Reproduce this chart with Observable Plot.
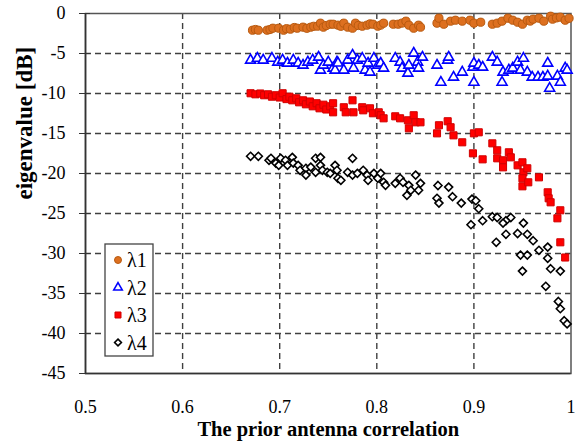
<!DOCTYPE html>
<html>
<head>
<meta charset="utf-8">
<script src="https://cdn.jsdelivr.net/npm/d3@7"></script>
<script src="https://cdn.jsdelivr.net/npm/@observablehq/plot@0.6"></script>
<style>
  html, body { margin: 0; padding: 0; background: #fff; }
  #wrap { position: relative; width: 575px; height: 443px; }
  #legend { position: absolute; left: 104px; top: 243px; }
  #wrap svg, #wrap svg text, #wrap svg g { font-family: 'Liberation Serif', serif !important; font-variant: normal !important; }
</style>
</head>
<body>
<div id="wrap"></div>
<script>
// ---- data ----
const seriesNames = ["λ1", "λ2", "λ3", "λ4"];
const xTicks = [0.5, 0.6, 0.7, 0.8, 0.9, 1];
const yTicks = [0, -5, -10, -15, -20, -25, -30, -35, -40, -45];

const lambda1 = [
  [0.672,-2.09],[0.675,-2.0],[0.678,-2.09],[0.687,-2.09],[0.690,-2.0],[0.693,-1.84],[0.699,-1.84],
  [0.704,-2.09],[0.707,-1.9],[0.711,-1.96],[0.715,-1.75],[0.718,-1.84],[0.724,-1.71],[0.728,-1.85],
  [0.732,-1.71],[0.735,-1.6],[0.739,-1.59],[0.742,-1.21],[0.745,-1.71],[0.748,-1.5],[0.752,-1.34],
  [0.755,-1.34],[0.760,-1.46],[0.763,-1.6],[0.766,-1.21],[0.770,-1.71],[0.775,-1.84],[0.778,-1.21],
  [0.781,-1.5],[0.785,-1.59],[0.790,-1.46],[0.793,-1.3],[0.796,-1.34],[0.801,-1.59],[0.804,-1.45],
  [0.807,-1.21],[0.817,-1.34],[0.822,-1.34],[0.826,-1.2],[0.830,-0.96],[0.833,-1.46],[0.838,-1.84],
  [0.843,-1.46],[0.845,-1.71],[0.862,-1.21],[0.864,-0.59],[0.869,-1.34],[0.876,-0.96],[0.881,-0.84],
  [0.888,-0.96],[0.896,-0.84],[0.900,-1.21],[0.907,-1.09],[0.919,-1.34],[0.924,-1.21],[0.929,-0.96],
  [0.935,-0.59],[0.940,-0.84],[0.945,-1.09],[0.950,-1.34],[0.955,-0.84],[0.958,-0.95],[0.961,-0.71],
  [0.967,-0.59],[0.972,-0.96],[0.979,-0.34],[0.981,-0.71],[0.985,-0.55],[0.989,-0.46],[0.994,-0.84],
  [0.998,-0.6]
];
const lambda2 = [
  [0.670,-5.84],[0.677,-5.6],[0.683,-5.84],[0.692,-5.6],[0.698,-6.09],[0.703,-5.84],[0.708,-6.22],
  [0.714,-5.84],[0.719,-6.22],[0.724,-6.47],[0.729,-6.09],[0.734,-5.84],[0.740,-5.47],[0.742,-7.09],
  [0.745,-6.47],[0.750,-6.09],[0.755,-6.84],[0.757,-7.09],[0.759,-6.09],[0.760,-6.2],[0.766,-7.09],
  [0.770,-5.84],[0.775,-5.22],[0.776,-6.84],[0.780,-5.84],[0.785,-5.6],[0.788,-7.09],[0.791,-6.22],
  [0.793,-7.34],[0.797,-5.6],[0.801,-6.47],[0.804,-6.22],[0.807,-6.84],[0.819,-5.6],[0.824,-6.09],
  [0.826,-6.84],[0.832,-7.47],[0.833,-6.47],[0.838,-4.97],[0.842,-6.09],[0.843,-6.84],[0.847,-5.47],
  [0.862,-6.47],[0.866,-8.6],[0.873,-5.84],[0.874,-5.47],[0.879,-7.97],[0.888,-7.34],[0.899,-6.72],
  [0.900,-6.22],[0.900,-8.6],[0.905,-6.47],[0.909,-6.72],[0.919,-5.47],[0.924,-6.09],[0.929,-8.6],
  [0.930,-7.34],[0.936,-7.09],[0.940,-6.84],[0.945,-6.09],[0.948,-7.09],[0.951,-5.6],[0.955,-7.34],
  [0.960,-7.97],[0.966,-7.97],[0.971,-7.97],[0.976,-6.22],[0.976,-7.84],[0.978,-9.35],[0.986,-7.84],
  [0.989,-8.6],[0.994,-6.84],[0.996,-7.09]
];
const lambda3 = [
  [0.670,-9.97],[0.675,-10.1],[0.680,-10.0],[0.684,-10.22],[0.688,-10.1],[0.692,-10.4],[0.696,-10.22],
  [0.700,-10.5],[0.703,-9.97],[0.707,-10.7],[0.710,-10.4],[0.713,-10.85],[0.717,-10.6],[0.720,-11.1],
  [0.724,-10.85],[0.727,-11.35],[0.731,-11.0],[0.734,-11.6],[0.738,-11.22],[0.741,-11.85],[0.745,-11.4],
  [0.748,-12.0],[0.752,-11.6],[0.755,-11.22],[0.755,-12.35],[0.766,-11.72],[0.768,-12.35],[0.775,-10.85],
  [0.776,-12.35],[0.785,-11.72],[0.786,-12.1],[0.793,-11.85],[0.796,-12.47],[0.802,-12.35],[0.804,-12.72],
  [0.807,-13.1],[0.819,-12.85],[0.824,-13.1],[0.832,-13.35],[0.833,-14.35],[0.838,-12.72],[0.840,-13.6],
  [0.845,-13.6],[0.864,-13.97],[0.873,-13.47],[0.862,-14.98],[0.876,-14.22],[0.879,-15.23],[0.888,-16.1],
  [0.899,-17.48],[0.900,-14.98],[0.905,-14.85],[0.909,-18.23],[0.919,-16.23],[0.924,-17.1],[0.924,-18.1],
  [0.930,-18.35],[0.930,-19.23],[0.936,-17.35],[0.938,-17.98],[0.945,-18.98],[0.950,-18.6],[0.951,-19.85],
  [0.955,-19.35],[0.950,-20.6],[0.950,-21.6],[0.956,-21.1],[0.967,-20.48],[0.976,-22.35],[0.977,-23.1],
  [0.979,-23.6],[0.989,-24.6],[0.986,-25.6],[0.989,-28.6],[0.994,-30.5]
];
const lambda4 = [
  [0.670,-17.85],[0.678,-17.85],[0.689,-18.35],[0.691,-18.1],[0.696,-18.7],[0.699,-18.98],[0.701,-18.1],
  [0.706,-18.35],[0.708,-18.98],[0.713,-17.98],[0.714,-18.7],[0.719,-18.98],[0.721,-19.6],[0.727,-19.35],
  [0.727,-20.2],[0.732,-19.2],[0.737,-18.1],[0.737,-19.85],[0.742,-17.98],[0.742,-18.98],[0.744,-19.6],
  [0.749,-19.85],[0.752,-19.98],[0.757,-18.98],[0.759,-19.6],[0.760,-20.6],[0.763,-20.85],[0.770,-19.85],
  [0.775,-18.1],[0.775,-20.2],[0.780,-19.98],[0.786,-19.6],[0.790,-20.2],[0.791,-20.85],[0.797,-19.98],
  [0.801,-20.6],[0.804,-19.98],[0.807,-21.1],[0.809,-21.48],[0.819,-21.23],[0.824,-20.6],[0.827,-21.1],
  [0.833,-21.48],[0.835,-22.1],[0.831,-22.73],[0.840,-20.2],[0.843,-22.1],[0.845,-21.23],[0.863,-21.5],
  [0.874,-21.7],[0.862,-23.1],[0.864,-23.7],[0.878,-22.9],[0.887,-23.7],[0.898,-23.2],[0.902,-23.4],
  [0.905,-24.4],[0.897,-26.4],[0.909,-25.9],[0.919,-25.4],[0.924,-25.5],[0.933,-25.9],[0.938,-25.5],
  [0.930,-26.2],[0.951,-26.2],[0.933,-27.6],[0.923,-28.6],[0.945,-27.5],[0.955,-27.6],[0.961,-28.4],
  [0.967,-29.6],[0.976,-29.2],[0.948,-30.2],[0.955,-30.2],[0.976,-30.6],[0.950,-32.2],[0.979,-31.9],
  [0.989,-32.2],[0.974,-34.1],[0.987,-36.0],[0.989,-36.9],[0.993,-38.4],[0.996,-38.8]
];

// ---- styles ----
const styles = [
  {symbol: "circle",   fill: "#dd7020", stroke: "#b85a10", r: 4.1, sw: 1},
  {symbol: "triangle", fill: "#ffffff", stroke: "#0000ff", r: 3.7, sw: 1.6},
  {symbol: "square",   fill: "#ff0000", stroke: "#d00000", r: 4.0, sw: 1},
  {symbol: "diamond2", fill: "#ffffff", stroke: "#000000", r: 3.6, sw: 1.6}
];
const allSeries = [lambda1, lambda2, lambda3, lambda4];
const font = "Liberation Serif";
const gridColor = "#404040";

const dotMarks = allSeries.map((s, i) => Plot.dot(s, {
  x: d => d[0], y: d => d[1],
  symbol: () => styles[i].symbol,
  r: styles[i].r, fill: styles[i].fill, stroke: styles[i].stroke, strokeWidth: styles[i].sw
}));

const chart = Plot.plot({
  width: 575, height: 443,
  marginLeft: 85, marginRight: 4.5, marginTop: 13, marginBottom: 70,
  style: {fontFamily: font, fontSize: "18px", color: "#000", background: "#fff"},
  x: {domain: [0.5, 1]},
  y: {domain: [-45, 0]},
  symbol: {type: "identity"},
  marks: [
    Plot.ruleX(xTicks.filter(d => d > 0.5 && d < 1), {stroke: gridColor, strokeWidth: 1.4, strokeDasharray: "6,4"}),
    Plot.ruleY(yTicks.filter(d => d < 0 && d > -45), {stroke: gridColor, strokeWidth: 1.4, strokeDasharray: "6,4"}),
    Plot.frame({stroke: "#555", strokeWidth: 1.5}),
    Plot.ruleX([0.5], {stroke: "#333", strokeWidth: 1.6}),
    Plot.ruleY([-45], {stroke: "#333", strokeWidth: 1.6}),
    Plot.axisY({ticks: yTicks, tickFormat: d => String(d), tickSize: 6, tickPadding: 14, stroke: "#333", label: null, fontSize: 18, fontFamily: font, fontVariant: "normal"}),
    Plot.axisY({ticks: yTicks, tickFormat: () => "", tickSize: -5, stroke: "#333", label: null}),
    Plot.axisX({ticks: xTicks, tickFormat: d => String(d), tickSize: 0, tickPadding: 27, label: null, fontSize: 18, fontFamily: font, fontVariant: "normal"}),
    Plot.text(["The prior antenna correlation"], {frameAnchor: "bottom", dy: 62, fontWeight: "bold", fontSize: 20.5, fill: "#000", fontFamily: font}),
    Plot.text(["eigenvalue [dB]"], {frameAnchor: "left", dx: -61, dy: 6, rotate: -90, fontWeight: "bold", fontSize: 23, fill: "#000", fontFamily: font}),
    ...dotMarks
  ]
});
document.getElementById("wrap").appendChild(chart);

// ---- legend ----
const lw = 48, lh = 112;
const leg = d3.create("svg").attr("id", "legend").attr("width", lw + 2).attr("height", lh + 2);
leg.append("rect").attr("x", 1).attr("y", 1).attr("width", lw).attr("height", lh)
  .attr("fill", "#fff").attr("stroke", "#444").attr("stroke-width", 1.3);
const symMap = {circle: d3.symbolCircle, triangle: d3.symbolTriangle, square: d3.symbolSquare, diamond2: d3.symbolDiamond2};
seriesNames.forEach((name, i) => {
  const cy = 17 + i * 27.5;
  const st = styles[i];
  leg.append("path")
    .attr("d", d3.symbol(symMap[st.symbol], Math.PI * (st.r * 0.85) ** 2)())
    .attr("transform", `translate(14,${cy})`)
    .attr("fill", st.fill).attr("stroke", st.stroke).attr("stroke-width", st.sw);
  leg.append("text").attr("x", 23).attr("y", cy).attr("dy", "0.35em")
    .attr("font-family", font).attr("font-size", 20).text(name);
});
document.getElementById("wrap").appendChild(leg.node());
</script>
</body>
</html>
